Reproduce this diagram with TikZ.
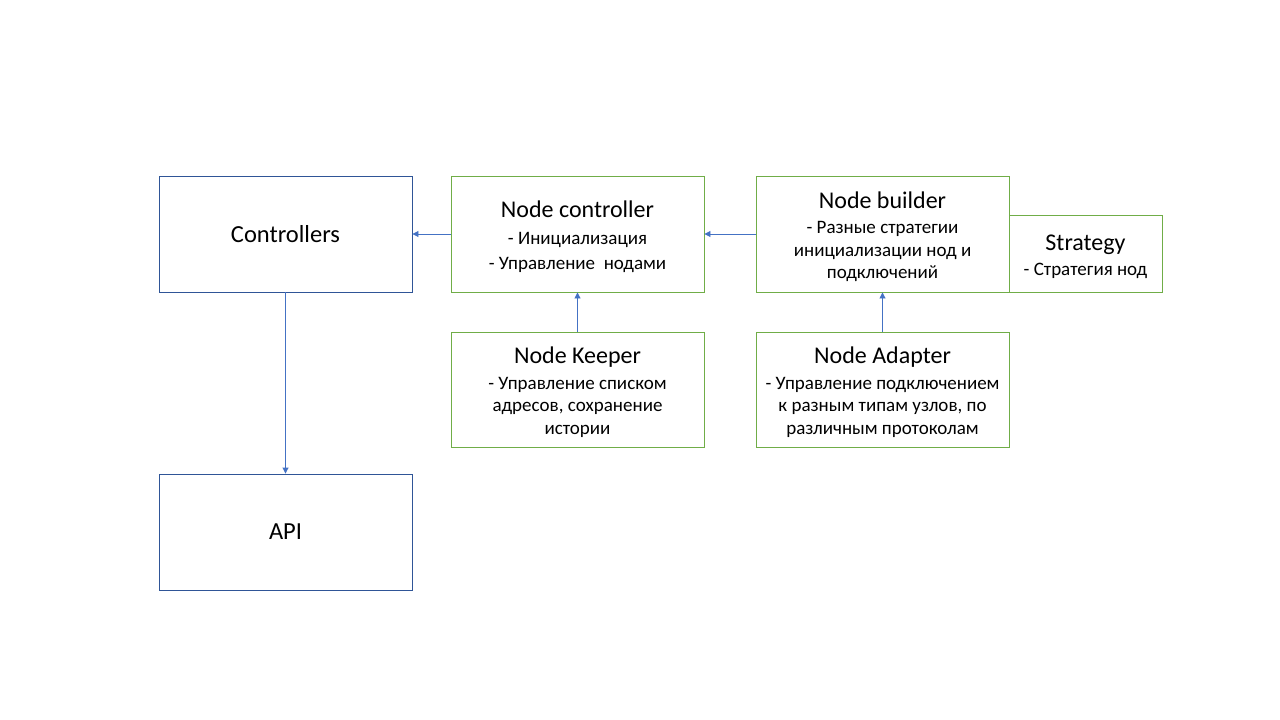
\documentclass[tikz,border=0pt]{standalone}
\usepackage{fontspec}
\setmainfont{Carlito}
\usetikzlibrary{arrows.meta}
\definecolor{bluebox}{HTML}{2F5597}
\definecolor{greenbox}{HTML}{70AD47}
\definecolor{arrowblue}{HTML}{4472C4}
\tikzset{
  bbox/.style={draw=bluebox, line width=0.9pt, minimum width=253pt, minimum height=116pt, inner sep=0pt, align=center, font=\fontsize{24.5}{29}\selectfont},
  gbox/.style={draw=greenbox, line width=0.9pt, inner sep=0pt, align=center, font=\fontsize{19}{22.5}\selectfont},
  conn/.style={draw=arrowblue, line width=0.9pt, -{Triangle[length=6pt,width=6pt]}},
}
\newcommand{\ttl}[1]{{\fontsize{24}{29}\selectfont\rule{0pt}{22pt}#1}}
\begin{document}
\begin{tikzpicture}[x=1pt,y=-1pt]
\useasboundingbox (0,0) rectangle (1280,720);
\node[bbox] (ctrl) at (285.5,234) {Controllers};
\node[bbox] (api) at (285.5,532) {API};
\node[gbox, minimum width=253pt, minimum height=116pt] (nc) at (577.5,234)
  {\ttl{Node controller}\\[5pt]- Инициализация\\[2.5pt]- Управление\ \ нодами};
\node[gbox, minimum width=253pt, minimum height=116pt] (nb) at (882.5,234)
  {\ttl{Node builder}\\[3pt]- Разные стратегии\\инициализации нод и\\подключений};
\node[gbox, minimum width=153pt, minimum height=77pt] (st) at (1085.5,253.5)
  {\ttl{Strategy}\\[2.5pt]- Стратегия нод};
\node[gbox, minimum width=253pt, minimum height=115pt] (nk) at (577.5,389.5)
  {\ttl{Node Keeper}\\[3pt]- Управление списком\\адресов, сохранение\\истории};
\node[gbox, minimum width=253pt, minimum height=115pt] (na) at (882.5,389.5)
  {\ttl{Node Adapter}\\[3pt]- Управление подключением\\к разным типам узлов, по\\различным протоколам};
\draw[conn] (ctrl.south) -- (api.north);
\draw[conn] (nc.west) -- (ctrl.east);
\draw[conn] (nb.west) -- (nc.east);
\draw[conn] (nk.north) -- (nc.south);
\draw[conn] (na.north) -- (nb.south);
\end{tikzpicture}
\end{document}
